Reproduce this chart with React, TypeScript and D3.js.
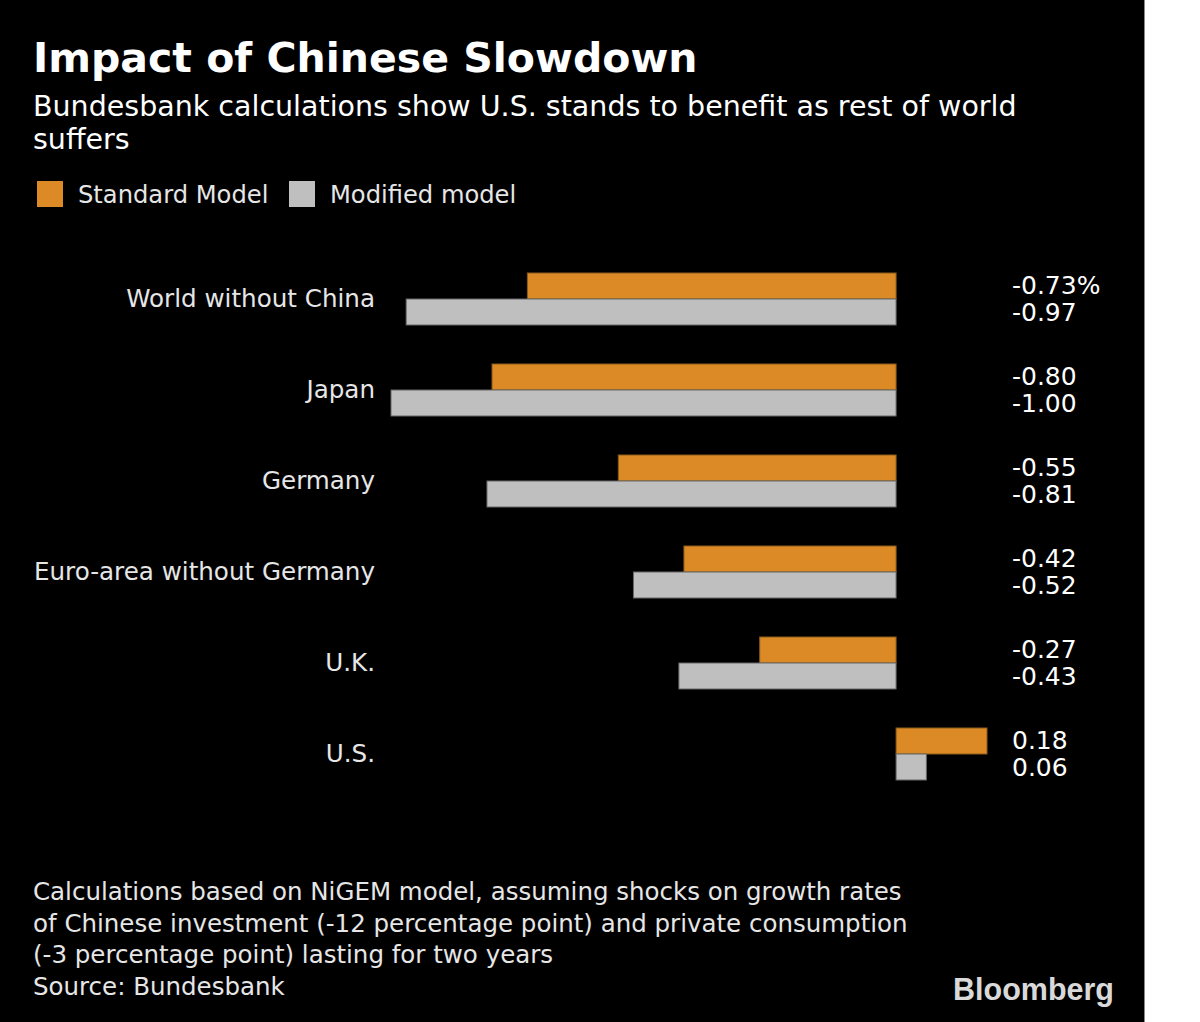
import React from "react";
import * as d3 from "d3";

const categories = ["World without China", "Japan", "Germany", "Euro-area without Germany", "U.K.", "U.S."];
const standardModel = [-0.73, -0.8, -0.55, -0.42, -0.27, 0.18];
const modifiedModel = [-0.97, -1.0, -0.81, -0.52, -0.43, 0.06];
const standardLabels = ["-0.73%", "-0.80", "-0.55", "-0.42", "-0.27", "0.18"];
const modifiedLabels = ["-0.97", "-1.00", "-0.81", "-0.52", "-0.43", "0.06"];
const seriesNames = ["Standard Model", "Modified model"];
const footnotes = [
  "Calculations based on NiGEM model, assuming shocks on growth rates",
  "of Chinese investment (-12 percentage point) and private consumption",
  "(-3 percentage point) lasting for two years",
  "Source: Bundesbank",
];

const W = 1200;
const H = 1022;
const ORANGE = "#DC8A25";
const GRAY = "#BFBFBF";
const FONT = "'DejaVu Sans', sans-serif";

export default function App() {
  const x = d3.scaleLinear().domain([-1, 0.18]).range([391, 987]);
  const y = d3.scaleBand().domain(categories).range([273, 780]).paddingInner(0.4286).paddingOuter(0);
  const bandH = y.bandwidth();
  const half = bandH / 2;

  return (
    <svg width={W} height={H} style={{ position: "absolute", left: 0, top: 0, display: "block" }} fontFamily={FONT}>
      <rect x={0} y={0} width={W} height={H} fill="#fff" />
      <rect x={0} y={0} width={1144} height={H} fill="#000" />
      <line x1={1144.5} x2={1144.5} y1={0} y2={H} stroke="#888" strokeWidth={1} />
      <text x={33} y={72} fill="#fff" fontSize={41} fontWeight="bold">Impact of Chinese Slowdown</text>
      <text x={33} y={116} fill="#fff" fontSize={28.5}>Bundesbank calculations show U.S. stands to benefit as rest of world</text>
      <text x={33} y={149} fill="#fff" fontSize={28.5}>suffers</text>
      {seriesNames.map((s, i) => {
        const lx = i === 0 ? 37 : 289;
        return (
          <g key={s}>
            <rect x={lx} y={181} width={26} height={26} fill={i === 0 ? ORANGE : GRAY} />
            <text x={lx + 41} y={203} fill="#e6e6e6" fontSize={24.2}>{s}</text>
          </g>
        );
      })}
      {categories.map((c, i) => {
        const top = y(c)!;
        const s = standardModel[i];
        const m = modifiedModel[i];
        return (
          <g key={c}>
            <rect x={x(Math.min(0, s))} y={top} width={Math.abs(x(s) - x(0))} height={half} fill={ORANGE} stroke="#8a5a1c" strokeWidth={1} />
            <rect x={x(Math.min(0, m))} y={top + half} width={Math.abs(x(m) - x(0))} height={half} fill={GRAY} stroke="#666" strokeWidth={1} />
            <text x={375} y={top + half + 8} textAnchor="end" fill="#e6e6e6" fontSize={24.6}>{c}</text>
            <text x={1012} y={top + half / 2 + 8} fill="#fff" fontSize={25}>{standardLabels[i]}</text>
            <text x={1012} y={top + half * 1.5 + 9} fill="#fff" fontSize={25}>{modifiedLabels[i]}</text>
          </g>
        );
      })}
      {footnotes.map((f, i) => (
        <text key={i} x={33} y={900 + i * 31.7} fill="#e6e6e6" fontSize={24.5}>{f}</text>
      ))}
      <text x={953} y={1000} fill="#d9d9d9" fontSize={30.5} fontWeight="bold" fontFamily="'Liberation Sans', Arial, sans-serif">Bloomberg</text>
    </svg>
  );
}
